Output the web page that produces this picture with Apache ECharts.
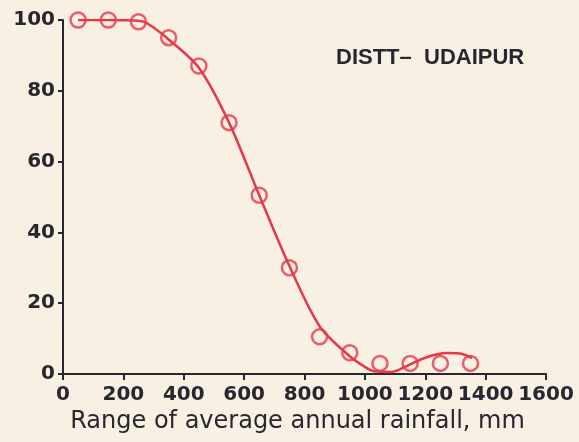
<!DOCTYPE html>
<html lang="en">
<head>
    <meta charset="UTF-8">
    <title>DISTT- UDAIPUR</title>
    <script src="https://cdn.jsdelivr.net/npm/echarts@6/dist/echarts.min.js"></script>
</head>
<body style="margin:0;background:#f7f0e3;">
<div id="rainChart" style="width:579px;height:442px;"></div>
</body>
<script type="text/javascript">
    // observed points (middle of each 100 mm class)
    var rainfallX = [50, 150, 250, 350, 450, 550, 650, 750, 850, 950, 1050, 1150, 1250, 1350];
    var percentY = [100, 100, 99.5, 95, 87, 71, 50.5, 30, 10.5, 6, 3, 3, 3, 3];

    // fitted curve
    var curveX = [50, 150, 250, 280, 350, 450, 550, 650, 750, 850, 950, 1000, 1030, 1090, 1140, 1200, 1270, 1325, 1355];
    var curveY = [100, 100, 99.8, 99, 94.5, 86.5, 71, 50.5, 30.5, 13.5, 5, 2, 0.8, 0.6, 2.3, 4.6, 5.9, 5.6, 4.5];

    var xTicks = [0, 200, 400, 600, 800, 1000, 1200, 1400, 1600];
    var yTicks = [0, 20, 40, 60, 80, 100];

    var red = '#e5394b';
    var ink = '#28272f';

    var curveData = [];
    for (var i = 0; i < curveX.length; i++) {
        curveData.push([curveX[i], curveY[i]]);
    }
    var pointData = [];
    for (var j = 0; j < rainfallX.length; j++) {
        pointData.push([rainfallX[j], percentY[j]]);
    }

    var chart = echarts.init(document.getElementById('rainChart'));
    var option = {
        backgroundColor: '#f7f0e3',
        animation: false,
        title: {
            text: 'DISTT–  UDAIPUR',
            left: 331,
            top: 42,
            textStyle: {
                fontFamily: 'Liberation Sans',
                fontSize: 22,
                fontWeight: 'bold',
                color: ink
            }
        },
        grid: {
            left: 63,
            right: 33,
            top: 20,
            bottom: 68
        },
        xAxis: {
            type: 'value',
            min: xTicks[0],
            max: xTicks[xTicks.length - 1],
            interval: 200,
            name: 'Range of average annual rainfall, mm',
            nameLocation: 'middle',
            nameGap: 32,
            nameTextStyle: {
                fontFamily: 'DejaVu Sans',
                fontSize: 24,
                color: ink,
                padding: [0, 14, 0, 0]
            },
            axisLine: {lineStyle: {color: ink, width: 2}},
            axisTick: {length: 6, lineStyle: {color: ink, width: 2}},
            axisLabel: {
                fontFamily: 'DejaVu Sans',
                fontWeight: 'bold',
                fontSize: 20,
                color: ink,
                margin: 11,
                formatter: function (v) { return String(v); }
            },
            splitLine: {show: false}
        },
        yAxis: {
            type: 'value',
            min: yTicks[0],
            max: yTicks[yTicks.length - 1],
            interval: 20,
            axisLine: {show: true, lineStyle: {color: ink, width: 2}},
            axisTick: {show: true, length: 5, lineStyle: {color: ink, width: 2}},
            axisLabel: {
                fontFamily: 'DejaVu Sans',
                fontWeight: 'bold',
                fontSize: 20,
                color: ink,
                margin: 8
            },
            splitLine: {show: false}
        },
        series: [
            {
                name: 'curve',
                type: 'line',
                data: curveData,
                smooth: 0.3,
                showSymbol: false,
                lineStyle: {color: red, width: 2.5}
            },
            {
                name: 'points',
                type: 'scatter',
                data: pointData,
                symbol: 'circle',
                symbolSize: 15,
                itemStyle: {
                    color: 'rgba(0,0,0,0)',
                    borderColor: red,
                    borderWidth: 2.5
                }
            }
        ]
    };
    chart.setOption(option);
</script>
</html>
